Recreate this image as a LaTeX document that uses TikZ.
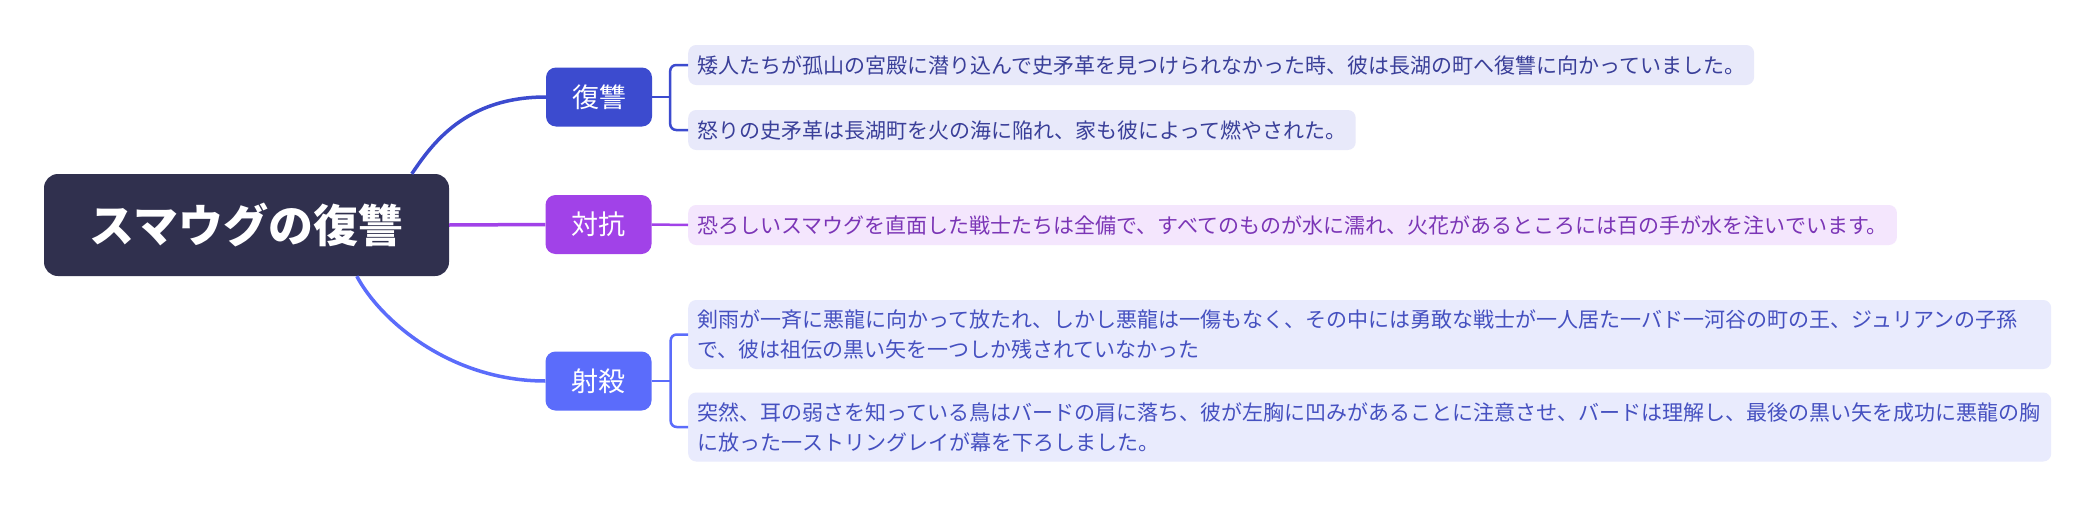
\documentclass[tikz,border=0pt]{standalone}
\usepackage{fontspec}
\setmainfont{Noto Sans CJK JP}
\usetikzlibrary{calc}
\definecolor{rootc}{HTML}{30304E}
\definecolor{cA}{HTML}{3C4BCF}
\definecolor{cB}{HTML}{A142E8}
\definecolor{cC}{HTML}{5B6CFB}
\definecolor{fA}{HTML}{E8E9FA}
\definecolor{tA}{HTML}{3A3F99}
\definecolor{fB}{HTML}{F4E6FD}
\definecolor{tB}{HTML}{7B35B6}
\definecolor{fC}{HTML}{E9EBFD}
\definecolor{tC}{HTML}{4550C0}
\begin{document}
\begin{tikzpicture}[x=1pt,y=-1pt,
  rootbox/.style={fill=rootc,text=white,rounded corners=14pt,minimum width=405pt,minimum height=102pt,inner sep=0pt,font=\fontsize{45}{50}\selectfont\bfseries},
  branch/.style={text=white,rounded corners=10pt,minimum width=106pt,minimum height=59pt,inner sep=0pt,font=\fontsize{27}{30}\selectfont},
  leaf/.style={anchor=west,rounded corners=8pt,minimum height=40pt,inner xsep=9pt,inner ysep=0pt,font=\fontsize{21}{30}\selectfont},
  leaftwo/.style={anchor=west,rounded corners=8pt,text width=1345pt,align=left,minimum height=69pt,inner xsep=9pt,inner ysep=4pt,font=\fontsize{21}{30}\selectfont},
  conn/.style={line width=3.5pt},
  sub/.style={line width=2.5pt,rounded corners=6pt}]
\useasboundingbox (0,0) rectangle (2098,522);
\fill[white] (0,0) rectangle (2098,522);
\node[rootbox] (root) at (246.5,225) {スマウグの復讐};
\node[branch,fill=cA] (b1) at (599,97) {復讐};
\node[branch,fill=cB] (b2) at (598.5,224.5) {対抗};
\node[branch,fill=cC] (b3) at (598.5,381) {射殺};
\draw[conn,cA] ([xshift=368pt]root.north west) .. controls (432,144) and (465,97) .. (b1.west);
\draw[conn,cB] (root.east) -- (b2.west);
\draw[conn,cC] ([xshift=313pt]root.south west) .. controls (380,320) and (450,381) .. (b3.west);
% leaves
\node[leaf,fill=fA,text=tA] (l1) at (688,65) {矮人たちが孤山の宮殿に潜り込んで史矛革を見つけられなかった時、彼は長湖の町へ復讐に向かっていました。};
\node[leaf,fill=fA,text=tA] (l2) at (688,130) {怒りの史矛革は長湖町を火の海に陥れ、家も彼によって燃やされた。};
\node[leaf,fill=fB,text=tB] (p1) at (688,225) {恐ろしいスマウグを直面した戦士たちは全備で、すべてのものが水に濡れ、火花があるところには百の手が水を注いでいます。};
\node[leaftwo,fill=fC,text=tC] (s1) at (688,334.5) {剣雨が一斉に悪龍に向かって放たれ、しかし悪龍は一傷もなく、その中には勇敢な戦士が一人居た一バド一河谷の町の王、ジュリアンの子孫\\で、彼は祖伝の黒い矢を一つしか残されていなかった};
\node[leaftwo,fill=fC,text=tC] (s2) at (688,427) {突然、耳の弱さを知っている鳥はバードの肩に落ち、彼が左胸に凹みがあることに注意させ、バードは理解し、最後の黒い矢を成功に悪龍の胸\\に放った一ストリングレイが幕を下ろしました。};
% sub connectors
\draw[sub,cA] (b1.east) -- ++(18,0);
\draw[sub,cA] (l1.west) -| ($(b1.east)+(18,0)$) |- (l2.west);
\draw[sub,cB] (b2.east) -- (p1.west);
\draw[sub,cC] (b3.east) -- ++(19,0);
\draw[sub,cC] (s1.west) -| ($(b3.east)+(19,0)$) |- (s2.west);
\end{tikzpicture}
\end{document}
